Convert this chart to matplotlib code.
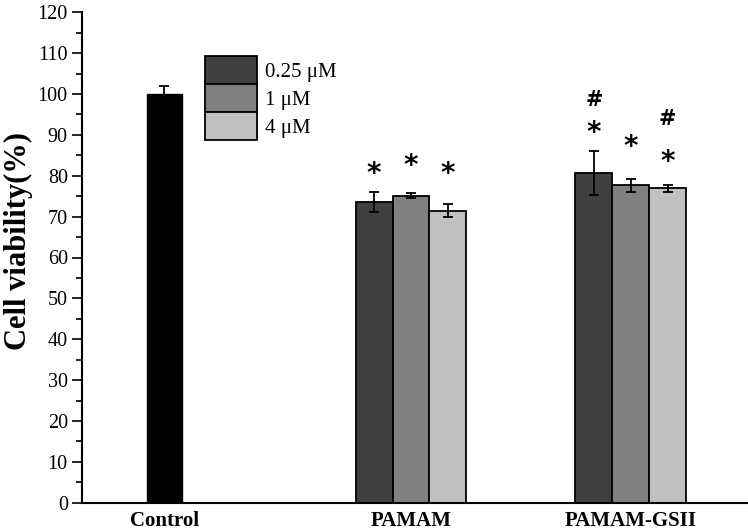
import matplotlib
matplotlib.use("Agg")
import matplotlib.pyplot as plt
from matplotlib.ticker import MultipleLocator

plt.rcParams['font.family'] = ['Liberation Serif', 'DejaVu Serif']

# ---- data ----
groups = ["Control", "PAMAM", "PAMAM-GSII"]
concentrations = ["0.25 μM", "1 μM", "4 μM"]
control_value = 100.0
control_err = 2.0
pamam_values = [73.6, 75.1, 71.5]
pamam_errs = [2.45, 0.65, 1.55]
gsii_values = [80.7, 77.7, 76.9]
gsii_errs = [5.4, 1.55, 0.8]
# significance markers
pamam_star_y = [80.4, 82.4, 80.4]
gsii_star_y = [90.5, 87.1, 83.4]
gsii_hash = [(0, 98.5), (2, 93.9)]

# ---- layout ----
colors = ["#404040", "#808080", "#c0c0c0"]
bw = 1.0
centers = [2.24, 8.93, 14.89]

fig = plt.figure(figsize=(7.48, 5.30), dpi=100)
ax = fig.add_axes([81.7/748, 27.3/530, 666/748, 490.4/530])

ax.bar(centers[0], control_value, width=0.95, color="black", edgecolor="black",
       linewidth=1.0, zorder=2)
ax.errorbar(centers[0], control_value, yerr=control_err, fmt="none", ecolor="black",
            elinewidth=1.3, capsize=3.6, capthick=1.3, zorder=3)

handles = []
for gi, (vals, errs) in enumerate([(pamam_values, pamam_errs), (gsii_values, gsii_errs)]):
    c = centers[gi + 1]
    for i in range(3):
        x = c + (i - 1) * bw
        b = ax.bar(x, vals[i], width=bw, color=colors[i], edgecolor="black",
                   linewidth=1.3, zorder=2)
        if gi == 0:
            handles.append(b)
        ax.errorbar(x, vals[i], yerr=errs[i], fmt="none", ecolor="black",
                    elinewidth=1.3, capsize=3.6, capthick=1.3, zorder=3)

star_kw = dict(ha="center", va="center", fontsize=20, fontweight="bold",
               family=["DejaVu Sans"])
for i, y in enumerate(pamam_star_y):
    ax.text(centers[1] + (i - 1) * bw, y, "*", **star_kw)
for i, y in enumerate(gsii_star_y):
    ax.text(centers[2] + (i - 1) * bw, y, "*", **star_kw)
for i, y in gsii_hash:
    ax.text(centers[2] + (i - 1) * bw, y, "#", ha="center", va="center",
            fontsize=15, fontweight="bold", family=["DejaVu Sans"])

ax.set_xlim(0, 18.06)
ax.set_ylim(0, 120)
ax.yaxis.set_major_locator(MultipleLocator(10))
ax.yaxis.set_minor_locator(MultipleLocator(5))
ax.tick_params(axis="y", which="major", direction="out", length=7, width=1.2,
               labelsize=14.5, pad=3)
ax.tick_params(axis="y", which="minor", direction="out", length=4, width=1.2)
ax.set_xticks(centers)
ax.set_xticklabels(groups, fontsize=15, fontweight="bold")
ax.tick_params(axis="x", length=0, pad=6)

for s in ["top", "right"]:
    ax.spines[s].set_visible(False)
for s in ["left", "bottom"]:
    ax.spines[s].set_linewidth(1.5)

ax.set_ylabel("Cell viability(%)", fontsize=22, fontweight="bold")
ax.yaxis.set_label_coords(-0.073, 0.534)

leg = ax.legend(handles=[h[0] for h in handles], labels=concentrations,
                loc="upper left", bbox_to_anchor=(205/748, 1 - 56/530),
                bbox_transform=fig.transFigure, frameon=False, fontsize=15,
                handlelength=2.5, handleheight=1.69, labelspacing=0.0,
                borderpad=0.0, borderaxespad=0.0, handletextpad=0.4)

fig.savefig("out.png", dpi=100)
